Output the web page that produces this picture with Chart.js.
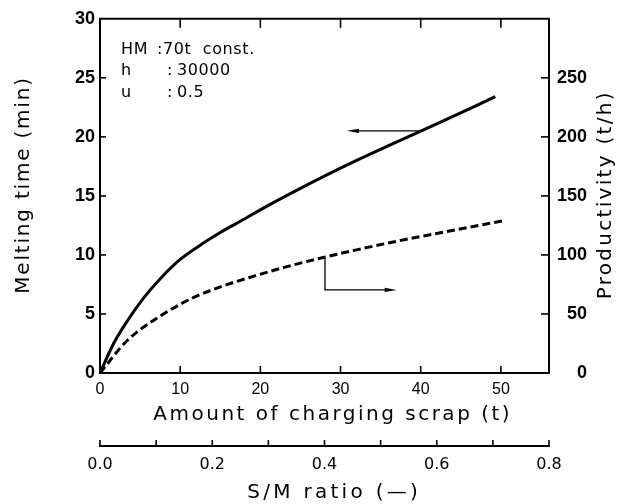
<!DOCTYPE html>
<html><head><meta charset="utf-8">
<script src="https://cdn.jsdelivr.net/npm/chart.js@4/dist/chart.umd.min.js"></script>
<style>html,body{margin:0;padding:0;background:#fff}#wrap{width:629px;height:504px}</style>
</head><body><div id="wrap"><canvas id="c" width="629" height="504"></canvas></div>
<script>
// ---- data ----
const scrapMelt    = [0, 1.7, 3.4, 5.5, 7.6, 10, 13, 15, 17.5, 21, 25.6, 30, 36, 42, 49.3];
const meltingTime  = [0, 2.5, 4.4, 6.4, 8.05, 9.62, 11.05, 11.9, 12.85, 14.2, 15.85, 17.35, 19.25, 21.1, 23.4];
const scrapProd    = [0, 3.4, 7.6, 11.7, 15.9, 19.2, 23, 27.7, 32, 37.3, 42, 46, 50.3];
const productivity = [0, 27.5, 48.6, 64, 75, 82, 89.5, 97.6, 104.3, 112, 118.2, 123.4, 129];
const xTickValues     = [0, 10, 20, 30, 40, 50];
const yLeftTickValues = [0, 5, 10, 15, 20, 25, 30];
const yRightTickValues= [0, 50, 100, 150, 200, 250, 300];
const smTickValues    = [0, 0.1, 0.2, 0.3, 0.4, 0.5, 0.6, 0.7, 0.8];
const noteLabels = ['HM', 'h', 'u'];
const noteValues = ['70t  const.', '30000', '0.5'];
const titles = {
  yLeft: 'Melting time (min)',
  yRight: 'Productivity (t/h)',
  x: 'Amount of charging scrap (t)',
  x2: 'S/M ratio (\u2014)'
};

const melt = scrapMelt.map((x, i) => ({x, y: meltingTime[i]}));
const prod = scrapProd.map((x, i) => ({x, y: productivity[i]}));

Chart.defaults.color = '#000';
Chart.defaults.font.family = "'Liberation Sans', Arial, sans-serif";

function setTicks(values) {
  return function (scale) { scale.ticks = values.map(v => ({value: v})); };
}

function spacedText(ctx, text, cx, cy, rot, font, spacing) {
  ctx.save();
  ctx.font = font;
  try { ctx.letterSpacing = spacing + 'px'; } catch (e) {}
  ctx.translate(cx, cy);
  ctx.rotate(rot);
  ctx.textAlign = 'center';
  ctx.textBaseline = 'middle';
  ctx.fillStyle = '#000';
  ctx.fillText(text, spacing / 2, 0);
  ctx.restore();
}

function arrowHead(ctx, x, y, dx, dy, len, half) {
  const bx = x - dx * len, by = y - dy * len;
  ctx.beginPath();
  ctx.moveTo(x, y);
  ctx.lineTo(bx - dy * half, by + dx * half);
  ctx.lineTo(bx + dy * half, by - dx * half);
  ctx.closePath();
  ctx.fill();
}

const decor = {
  id: 'decor',
  afterDraw(chart) {
    const ctx = chart.ctx, a = chart.chartArea, s = chart.scales;
    ctx.save();
    ctx.strokeStyle = '#000';
    ctx.fillStyle = '#000';
    ctx.lineCap = 'butt';
    ctx.lineWidth = 2;
    ctx.beginPath(); ctx.moveTo(a.left - 1, a.top); ctx.lineTo(a.right + 1, a.top); ctx.stroke();

    const seg = (x1, y1, x2, y2) => { ctx.beginPath(); ctx.moveTo(x1, y1); ctx.lineTo(x2, y2); ctx.stroke(); };
    ctx.lineWidth = 1.6;
    s.x.ticks.forEach(t => {
      if (t.value <= s.x.min || t.value >= s.x.max) return;
      const p = s.x.getPixelForValue(t.value);
      seg(p, a.bottom, p, a.bottom - 7);
      seg(p, a.top, p, a.top + 9);
    });
    s.y.ticks.forEach(t => {
      if (t.value <= s.y.min || t.value >= s.y.max) return;
      const p = s.y.getPixelForValue(t.value);
      seg(a.left, p, a.left + 6, p);
    });
    s.y2.ticks.forEach(t => {
      if (t.value <= s.y2.min || t.value >= s.y2.max) return;
      const p = s.y2.getPixelForValue(t.value);
      seg(a.right, p, a.right - 8, p);
    });
    s.x2.ticks.forEach(t => {
      const p = s.x2.getPixelForValue(t.value);
      seg(p, s.x2.top, p, s.x2.top - 6);
    });

    // arrows (annotation positions in data units)
    ctx.lineWidth = 1.3;
    const X = v => s.x.getPixelForValue(v), Y = v => s.y.getPixelForValue(v);
    seg(X(40.1), Y(20.51), X(31.6), Y(20.51));
    arrowHead(ctx, X(30.8), Y(20.51), -1, 0, 12, 2.2);
    ctx.beginPath();
    ctx.moveTo(X(28.06), Y(9.75));
    ctx.lineTo(X(28.06), Y(7.04));
    ctx.lineTo(X(36.2), Y(7.04));
    ctx.stroke();
    arrowHead(ctx, X(37.0), Y(7.04), 1, 0, 12, 2.2);

    // condition notes
    const noteY = [27.33, 25.57, 23.72];
    const colonX = [7.1, 8.36, 8.36];
    const valX = [7.86, 9.6, 9.6];
    ctx.font = "16px 'DejaVu Sans', sans-serif";
    try { ctx.letterSpacing = '0.6px'; } catch (e) {}
    ctx.textBaseline = 'middle';
    ctx.textAlign = 'left';
    noteLabels.forEach((lab, i) => {
      ctx.fillText(lab, X(2.62), Y(noteY[i]));
      ctx.fillText(':', X(colonX[i]), Y(noteY[i]));
      ctx.fillText(noteValues[i], X(valX[i]), Y(noteY[i]));
    });
    try { ctx.letterSpacing = '0px'; } catch (e) {}
    ctx.restore();

    // axis titles
    const tf = "20px 'DejaVu Sans', sans-serif";
    spacedText(ctx, titles.yLeft, 24, (a.top + a.bottom) / 2 - 10, -Math.PI / 2, tf, 1.8);
    spacedText(ctx, titles.yRight, 606, (a.top + a.bottom) / 2, -Math.PI / 2, tf, 2.3);
    spacedText(ctx, titles.x, (a.left + a.right) / 2 + 7, 415, 0, tf, 2.5);
    spacedText(ctx, titles.x2, (a.left + a.right) / 2 + 8, 493, 0, tf, 3.3);
  }
};

new Chart(document.getElementById('c'), {
  type: 'line',
  data: {
    datasets: [
      { label: 'Melting time', data: melt, xAxisID: 'x', yAxisID: 'y',
        borderColor: '#000', borderWidth: 3, pointRadius: 0, fill: false,
        cubicInterpolationMode: 'monotone' },
      { label: 'Productivity', data: prod, xAxisID: 'x', yAxisID: 'y2',
        borderColor: '#000', borderWidth: 3, borderDash: [8, 4], pointRadius: 0, fill: false,
        cubicInterpolationMode: 'monotone' }
    ]
  },
  options: {
    responsive: false,
    animation: false,
    devicePixelRatio: 1,
    layout: { padding: { top: 15, left: 0, right: 42, bottom: 0 } },
    plugins: { legend: { display: false }, tooltip: { enabled: false } },
    scales: {
      x: {
        type: 'linear', position: 'bottom', min: 0, max: 56, weight: 0,
        afterBuildTicks: setTicks(xTickValues),
        afterFit: sc => { sc.height = 73; },
        grid: { display: false, drawTicks: false },
        border: { display: true, color: '#000', width: 2 },
        ticks: { padding: 7, font: { size: 16 }, maxRotation: 0, autoSkip: false,
          callback: v => String(v) }
      },
      x2: {
        type: 'linear', position: 'bottom', min: 0, max: 0.8, weight: 1,
        afterBuildTicks: setTicks(smTickValues),
        afterFit: sc => { sc.height = 58; },
        grid: { display: false, drawTicks: false },
        border: { display: true, color: '#000', width: 2 },
        ticks: { padding: 9, font: { size: 16, family: "'DejaVu Sans', sans-serif" }, maxRotation: 0, autoSkip: false,
          callback: v => (Math.round(v * 10) % 2 === 0 ? v.toFixed(1) : '') }
      },
      y: {
        type: 'linear', position: 'left', min: 0, max: 30,
        afterBuildTicks: setTicks(yLeftTickValues),
        afterFit: sc => { sc.width = 100; },
        grid: { display: false, drawTicks: false },
        border: { display: true, color: '#000', width: 2 },
        ticks: { padding: 5, font: { size: 18, weight: 'bold' }, autoSkip: false,
          callback: v => String(v) }
      },
      y2: {
        type: 'linear', position: 'right', min: 0, max: 300,
        afterBuildTicks: setTicks(yRightTickValues),
        afterFit: sc => { sc.width = 38; },
        grid: { display: false, drawTicks: false },
        border: { display: true, color: '#000', width: 2 },
        ticks: { padding: 8, crossAlign: 'far', font: { size: 18, weight: 'bold' }, autoSkip: false,
          callback: v => (v === 300 ? '' : String(v)) }
      }
    }
  },
  plugins: [decor]
});
</script>
</body></html>
